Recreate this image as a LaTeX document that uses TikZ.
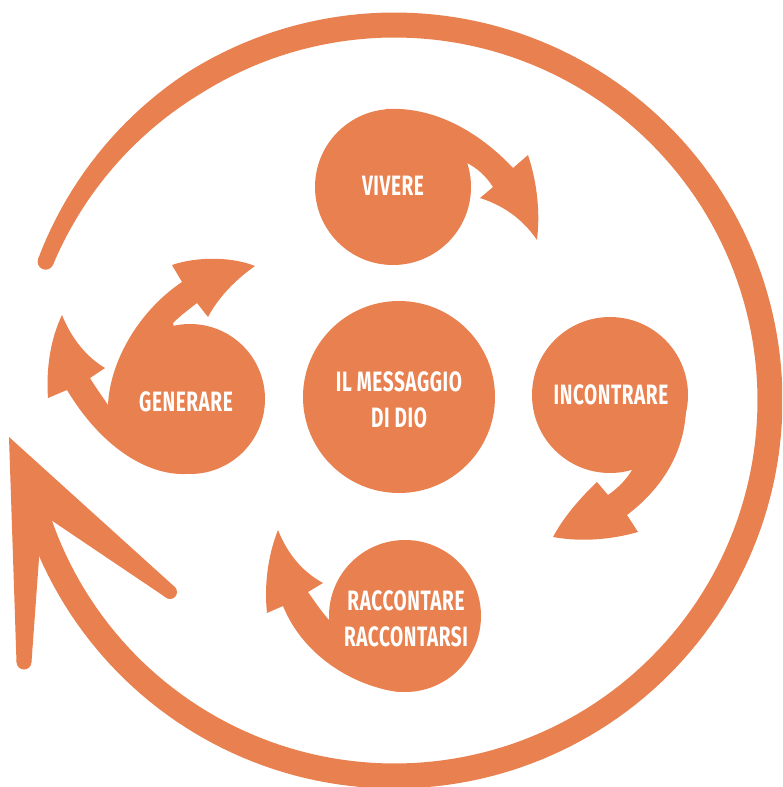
\documentclass[tikz,border=0pt]{standalone}
\usepackage{fontspec}
\newfontfamily\labfont{Fira Sans}[FakeStretch=0.68, LetterSpace=2]
\definecolor{org}{RGB}{233,128,79}
\begin{document}
\begin{tikzpicture}[x=1pt,y=-1pt,
  lab/.style={text=white, font=\labfont\bfseries\fontsize{28}{36}\selectfont, align=center, inner sep=0pt},
  shp/.style={fill=org}]
\useasboundingbox (0,0) rectangle (782,787);
\clip (0,0) rectangle (782,787);
% big ring
\fill[org] plot[domain=158.3:-163, samples=200, variable=\t]
  ({394.5+(375.5+0.5*min(25,16+0.25*(158.3-\t)))*cos(\t)},{400.5-(375.5+0.5*min(25,16+0.25*(158.3-\t)))*sin(\t)})
  -- plot[domain=-163:158.3, samples=200, variable=\t]
  ({394.5+(375.5-0.5*min(25,16+0.25*(158.3-\t)))*cos(\t)},{400.5-(375.5-0.5*min(25,16+0.25*(158.3-\t)))*sin(\t)})
  -- cycle;
\fill[org] ({394.5+375.5*cos(158.3)},{400.5-375.5*sin(158.3)}) circle (8);
% big arrowhead
\fill[org] (9,437) -- (174.8,587) -- (165.2,597) -- (48,518) -- (40,545) -- (31.5,662) -- (16.5,662) -- cycle;
\fill[org] (170,592) circle (7);
\fill[org] (24,662) circle (7.5);
% central circle
\fill[shp] (399,397) circle (96);
% VIVERE
\fill[shp] (393,187) circle (78);
\fill[shp] (386,109) .. controls (440,106) and (485,138) .. (513,168) -- (528,155)
  .. controls (538,185) and (540,215) .. (537,240)
  .. controls (522,218) and (502,205) .. (480,198) -- (493,187)
  .. controls (486,176) and (477,168) .. (467,163) -- (393,187) -- cycle;
% GENERARE
\fill[shp] (190,399) circle (75);
\fill[shp] (185,474) .. controls (145,475) and (100,445) .. (67,390) -- (48,398)
  .. controls (46,370) and (50,340) .. (62,315)
  .. controls (72,340) and (88,358) .. (105,368) -- (90,378)
  .. controls (96,388) and (102,396) .. (108,405)
  .. controls (110,360) and (140,310) .. (182,282) -- (172,265)
  .. controls (195,257) and (230,256) .. (255,266)
  .. controls (235,280) and (218,298) .. (208,317) -- (197,303)
  .. controls (188,310) and (180,316) .. (173,323) -- (190,399) -- cycle;
% INCONTRARE
\fill[shp] (610,395) circle (78);
\fill[shp] (686,410) .. controls (684,455) and (660,490) .. (627,515) -- (638,532)
  .. controls (610,540) and (580,542) .. (553,537)
  .. controls (563,518) and (580,498) .. (597,482) -- (608,495)
  .. controls (618,488) and (626,480) .. (632,470) -- (610,395) -- cycle;
% RACCONTARE
\fill[shp] (405,616) circle (76);
\fill[shp] (400,692) .. controls (360,688) and (305,660) .. (283,606) -- (267,613)
  .. controls (264,585) and (268,555) .. (278,530)
  .. controls (288,555) and (303,572) .. (323,583) -- (308,592)
  .. controls (315,602) and (321,611) .. (329,620) -- (405,616) -- cycle;
% labels
\node[lab] (msg) at (399,400) {IL MESSAGGIO\\DI DIO};
\node[lab] (viv) at (393,186) {VIVERE};
\node[lab] (gen) at (186,402) {GENERARE};
\node[lab] (inc) at (611,395) {INCONTRARE};
\node[lab] (rac) at (406,619) {RACCONTARE\\RACCONTARSI};
\end{tikzpicture}
\end{document}
